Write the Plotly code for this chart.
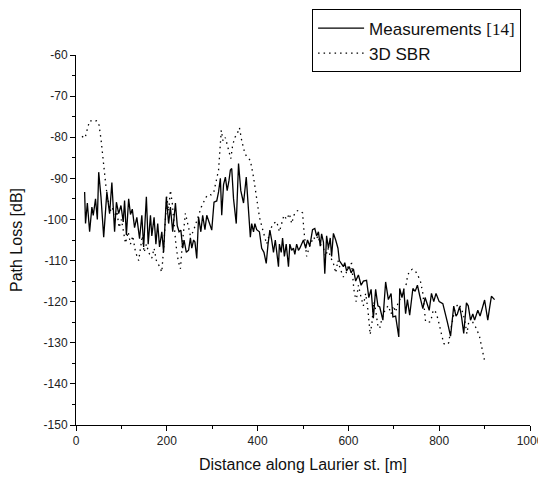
import plotly.graph_objects as go

meas_x = [19,21,25,30,35,38,43,47,50,55,61,68,74,79,85,89,94,99,104,107,111,116,120,124,129,134,140,145,149,155,159,164,167,172,176,180,184,189,193,199,204,208,213,219,223,227,231,235,238,243,248,252,255,259,262,266,270,275,279,284,288,293,299,304,310,314,318,321,325,329,333,337,340,343,347,353,358,363,369,375,380,384,387,391,394,398,404,409,414,419,423,427,431,435,439,446,448,452,455,459,463,468,471,475,479,482,486,490,493,497,501,506,510,515,521,526,530,534,538,541,545,548,552,556,560,563,567,572,577,580,589,592,596,602,606,611,616,622,628,633,640,645,650,655,660,665,669,676,682,688,694,698,704,711,713,718,722,726,730,735,742,747,752,757,764,769,778,783,788,793,800,808,813,818,825,832,837,840,845,849,854,860,864,869,874,878,885,890,900,907,911,915,922]
meas_y = [-93.3,-101,-96,-103,-97,-99,-95,-100,-88.5,-94.5,-104.3,-93.3,-98.6,-91,-103,-95.8,-98.6,-96.6,-100.6,-95.4,-103.8,-95,-98.8,-97.5,-102,-99.5,-104.7,-99,-106.7,-94.5,-106,-99,-104,-99.5,-106,-101,-106.7,-103,-108,-94.5,-101,-97,-103,-96,-101.5,-103,-102.6,-107,-105,-108,-107.5,-104.5,-107,-105,-105.5,-109.5,-99.4,-103,-99,-102.5,-99,-100.5,-102.6,-95.8,-95.5,-93.3,-90,-99,-91.5,-89.7,-93,-90.5,-88,-87.6,-95,-101,-86.4,-93,-96,-89.7,-98,-104.3,-101,-103,-101,-102.5,-103,-107,-108,-110.7,-106,-102.6,-105,-108,-105,-111.5,-106,-108,-104.5,-109,-106,-111.5,-106,-107.5,-107,-108.5,-106,-107.5,-107,-106,-105,-107,-105,-106.5,-102.5,-102.2,-104,-103,-106.5,-103.5,-105.5,-113.2,-104,-107,-104.5,-109,-103.4,-105,-107,-110,-111.5,-110.5,-112.5,-111.5,-113,-112,-115,-113.5,-116,-115,-114.8,-119,-117,-124,-117,-121,-121.3,-124.5,-115.2,-119.5,-118,-123.7,-123.5,-128.6,-116.8,-119,-117,-122.9,-119.5,-123.3,-116.8,-117.5,-116,-118.5,-121.7,-119,-122.1,-118,-120,-118,-120,-120.5,-122.5,-125,-128.4,-121.1,-123.5,-123,-121.2,-123.5,-127.7,-120.3,-121,-124.5,-123,-124.5,-122.1,-123.5,-119.6,-124.5,-121.5,-118.7,-119.5]

sbr_x = [13,20,25,30,35,40,45,50,55,59,63,66,70,75,80,85,90,95,100,105,109,115,120,125,131,138,142,146,150,155,160,167,172,177,182,189,193,197,200,204,208,212,216,220,225,230,235,241,246,252,258,266,271,276,281,287,292,298,303,308,314,320,324,329,333,336,341,345,350,354,360,365,368,372,378,384,391,398,404,410,415,420,425,430,435,442,448,453,458,464,470,475,480,485,490,495,499,502,508,513,518,523,528,533,538,545,550,555,560,567,572,577,582,589,595,601,607,612,617,622,628,633,638,643,648,652,656,660,665,669,674,682,688,694,699,704,710,716,722,728,730,735,741,747,752,759,764,768,770,775,781,787,792,797,801,805,810,816,821,825,830,834,839,843,848,853,857,861,865,870,876,882,889,893,896,900]
sbr_y = [-79.8,-80.2,-78,-76,-76,-76.2,-76,-76.5,-80.4,-84.8,-88.8,-92,-95,-98,-97,-100,-98,-102,-100,-103,-105.8,-103,-106,-104,-107.9,-110,-107,-104,-108,-106,-108,-109.4,-107,-110,-111,-112.8,-107,-101,-94.5,-98,-92.9,-96,-101,-106,-110,-112,-105,-98.5,-101,-104,-103,-100.2,-99,-97,-95.8,-94.5,-93.9,-94,-93.6,-91,-88,-78.3,-81,-80.1,-82,-83.2,-85.2,-82,-80,-79.5,-77.7,-80.8,-82,-84,-85,-85.6,-89.7,-94.5,-99.4,-102,-104,-106,-104,-102,-101,-100.5,-103,-101,-99,-100,-98.6,-101,-99,-98,-97.8,-98,-98.4,-102.6,-109,-107,-105.5,-104.3,-105,-104,-106,-107,-109,-107,-109,-110.7,-113,-110,-112,-114,-113,-111,-110.7,-117,-120,-116,-119,-121,-118,-122,-128,-125,-120,-122,-126,-126.5,-124,-121.7,-121,-123,-121,-122.5,-120,-119,-117,-115.6,-113.8,-112.5,-112.1,-112.5,-113.3,-115.2,-118,-122.9,-124.9,-125,-124.9,-122,-122.5,-124.1,-126,-128.2,-130.2,-130.5,-130,-127,-124,-122.1,-121,-120.5,-121.5,-123,-125,-127.8,-125,-124,-125.5,-126.5,-128.6,-130.6,-132.5,-134.4]

x_ticks = [0, 200, 400, 600, 800, 1000]
y_ticks = [-60, -70, -80, -90, -100, -110, -120, -130, -140, -150]

fig = go.Figure()
fig.add_trace(go.Scatter(
    x=meas_x, y=meas_y, mode="lines",
    name="Measurements <span style='font-family:\"Liberation Serif\"'>[14]</span>",
    line=dict(color="black", width=1.3),
))
fig.add_trace(go.Scatter(
    x=sbr_x, y=sbr_y, mode="lines", name="3D SBR",
    line=dict(color="black", width=1.3, dash="1.5px,4px"),
))

axis_common = dict(
    showline=True, linecolor="black", linewidth=1, mirror=False,
    showgrid=False, zeroline=False, ticks="outside", ticklen=5,
    tickcolor="black", tickwidth=1,
    tickfont=dict(family="Liberation Sans, Arial", size=12, color="#222"),
)
fig.update_xaxes(
    range=[0, 1000], tickvals=x_ticks, ticktext=[str(v) for v in x_ticks],
    minor=dict(dtick=100, ticklen=3, ticks="outside", tickcolor="black", showgrid=False),
    title=dict(text="Distance along Laurier st. [m]", standoff=11,
               font=dict(family="Liberation Sans, Arial", size=16, color="#111")),
    **axis_common,
)
fig.update_yaxes(
    range=[-150, -60], tickvals=y_ticks, ticktext=[str(v) for v in y_ticks],
    minor=dict(dtick=5, ticklen=3, ticks="outside", tickcolor="black", showgrid=False),
    title=dict(text="Path Loss [dB]", standoff=20,
               font=dict(family="Liberation Sans, Arial", size=16, color="#111")),
    **axis_common,
)
# page body has an 8px default margin, so the figure is sized and placed to fit the window
fig.update_layout(
    width=538, height=475,
    margin=dict(l=67.5, r=15.5, t=46.6, b=58, autoexpand=False),
    plot_bgcolor="white", paper_bgcolor="white",
    legend=dict(
        x=0.52, y=1.123, xanchor="left", yanchor="top",
        bordercolor="black", borderwidth=1, bgcolor="white",
        font=dict(family="Liberation Sans, Arial", size=17, color="#111"),
        tracegroupgap=0, itemwidth=46, entrywidth=172, entrywidthmode="pixels",
    ),
    showlegend=True,
)
fig.write_html("out.html")
